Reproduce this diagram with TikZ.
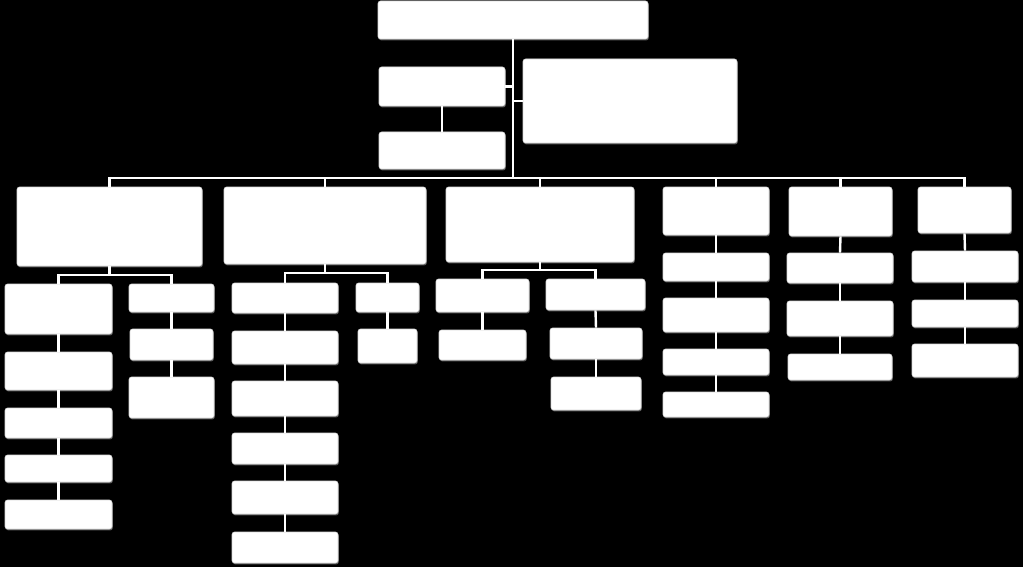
\documentclass[tikz,border=0pt]{standalone}
\usetikzlibrary{fit,shadows}
\tikzset{
  bx/.style={fill=white, draw=white!85!black, line width=0.6pt, rounded corners=2.5pt, inner sep=0pt,
    drop shadow={shadow xshift=0.8pt, shadow yshift=-1.4pt, fill=gray!80, opacity=0.6}},
  ln/.style={draw=white, line width=2.4pt},
}
\newcommand{\bx}[5]{\node[bx, fit={(#2,#3) (#4,#5)}] (#1) {};}
\begin{document}
\begin{tikzpicture}[x=1pt,y=-1pt]
\fill[black] (0,0) rectangle (1023,567);
\useasboundingbox (0,0) rectangle (1023,567);
% connectors first (behind boxes)
\coordinate (bus) at (513,178);
\coordinate (s1) at (109,275);
\coordinate (s2) at (325,273);
\coordinate (s3) at (540,270);
% boxes
\bx{top}{378}{1}{648}{39}
\bx{A}{379}{67}{505}{106}
\bx{B}{379}{132}{505}{169}
\bx{C}{523}{59}{737}{143}
\bx{L1}{17}{187}{202}{266}
\bx{L2}{224}{187}{426}{264}
\bx{L3}{446}{187}{634}{262}
\bx{L4}{663}{187}{769}{235}
\bx{L5}{789}{187}{892}{236}
\bx{L6}{918}{187}{1011}{233}
\bx{a1}{5}{284}{112}{334}
\bx{a2}{5}{352}{112}{390}
\bx{a3}{5}{408}{112}{438}
\bx{a4}{5}{455}{112}{482}
\bx{a5}{5}{500}{112}{529}
\bx{b1}{129}{284}{214}{312}
\bx{b2}{130}{329}{213}{360}
\bx{b3}{129}{377}{214}{418}
\bx{c1}{232}{283}{338}{313}
\bx{c2}{232}{331}{338}{364}
\bx{c3}{232}{381}{338}{416}
\bx{c4}{232}{433}{338}{464}
\bx{c5}{232}{481}{338}{514}
\bx{c6}{232}{532}{338}{563}
\bx{d1}{356}{283}{419}{312}
\bx{d2}{358}{329}{417}{363}
\bx{e1}{436}{279}{529}{312}
\bx{e2}{439}{330}{526}{360}
\bx{f1}{546}{279}{645}{310}
\bx{f2}{550}{328}{642}{359}
\bx{f3}{551}{377}{641}{410}
\bx{g1}{663}{253}{769}{281}
\bx{g2}{663}{298}{769}{332}
\bx{g3}{663}{349}{769}{375}
\bx{g4}{663}{392}{769}{417}
\bx{h1}{787}{253}{893}{283}
\bx{h2}{787}{301}{893}{336}
\bx{h3}{788}{354}{892}{380}
\bx{i1}{912}{251}{1018}{282}
\bx{i2}{912}{300}{1018}{327}
\bx{i3}{912}{344}{1018}{377}
% connectors
\begin{scope}[ln]
\draw (top.south) -- (bus);
\draw (A.east) -- (A.east -| top.south);
\draw (C.west) -- (C.west -| top.south);
\draw (A.south) -- (B.north);
\draw (L1.north) |- (bus) -| (L6.north);
\draw (L2.north) -- (L2.north |- bus);
\draw (L3.north) -- (L3.north |- bus);
\draw (L4.north) -- (L4.north |- bus);
\draw (L5.north) -- (L5.north |- bus);
% L1
\draw (L1.south) -- (L1.south |- s1);
\draw (a1.north) |- (s1) -| (b1.north);
\draw (a1.south) -- (a2.north);
\draw (a2.south) -- (a3.north);
\draw (a3.south) -- (a4.north);
\draw (a4.south) -- (a5.north);
\draw (b1.south) -- (b2.north);
\draw (b2.south) -- (b3.north);
% L2
\draw (L2.south) -- (L2.south |- s2);
\draw (c1.north) |- (s2) -| (d1.north);
\draw (c1.south) -- (c2.north);
\draw (c2.south) -- (c3.north);
\draw (c3.south) -- (c4.north);
\draw (c4.south) -- (c5.north);
\draw (c5.south) -- (c6.north);
\draw (d1.south) -- (d2.north);
% L3
\draw (L3.south) -- (L3.south |- s3);
\draw (e1.north) |- (s3) -| (f1.north);
\draw (e1.south) -- (e2.north);
\draw (f1.south) -- (f2.north);
\draw (f2.south) -- (f3.north);
% L4-L6
\draw (L4.south) -- (g1.north);
\draw (g1.south) -- (g2.north);
\draw (g2.south) -- (g3.north);
\draw (g3.south) -- (g4.north);
\draw (L5.south) -- (h1.north);
\draw (h1.south) -- (h2.north);
\draw (h2.south) -- (h3.north);
\draw (L6.south) -- (i1.north);
\draw (i1.south) -- (i2.north);
\draw (i2.south) -- (i3.north);
\end{scope}
\end{tikzpicture}
\end{document}
